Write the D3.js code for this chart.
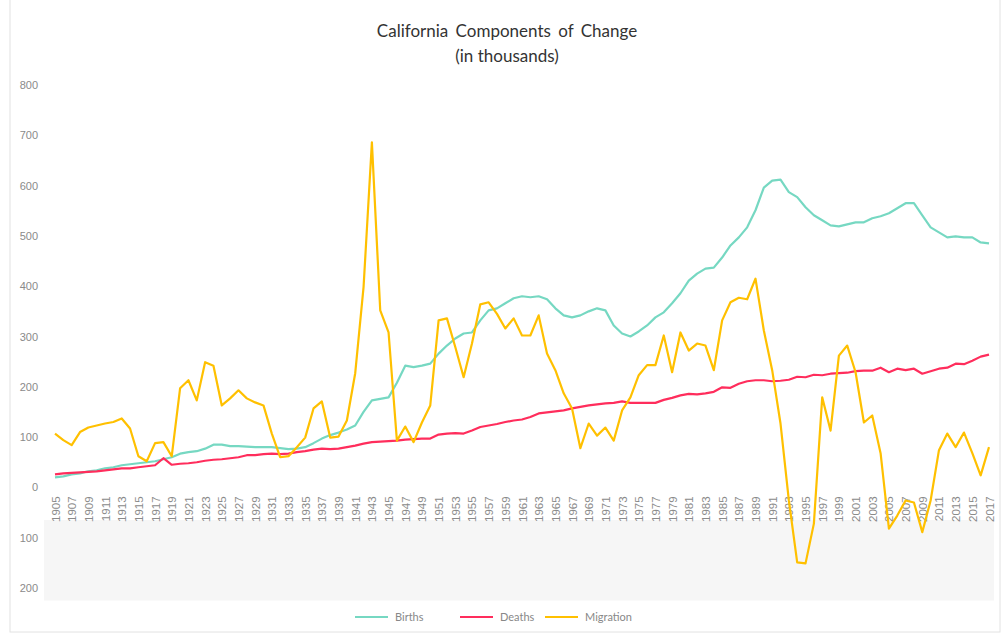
<!DOCTYPE html>
<html>
<head>
<meta charset="utf-8">
<script src="https://cdn.jsdelivr.net/npm/d3@7"></script>
<style>
  body { margin: 0; background: #fff; }
  svg { display: block; font-family: Lato, "Open Sans", sans-serif; }
  .tick text { fill: #8a8a8a; font-size: 11px; }
</style>
</head>
<body>
<div id="chart"></div>
<script>
// data (thousands), one value per year 1905..2017
let years = d3.range(1905, 2018);

let births = [
  20, 22, 26, 28, 32, 34, 38, 40, 44, 46,          // 1905-1914
  48, 50, 52, 56, 60, 67, 70, 72, 77, 85,          // 1915-1924
  85, 82, 82, 81, 80, 80, 80, 78, 76, 77,          // 1925-1934
  80, 88, 97, 104, 109, 115, 123, 150, 173, 176,   // 1935-1944
  179, 208, 242, 239, 242, 246, 266, 282, 296, 306, // 1945-1954
  308, 332, 352, 356, 366, 376, 380, 378, 380, 374, // 1955-1964
  356, 342, 338, 342, 350, 356, 352, 322, 306, 300, // 1965-1974
  310, 322, 338, 348, 366, 386, 411, 425, 435, 437, // 1975-1984
  457, 481, 497, 517, 551, 596, 610, 612, 587, 577, // 1985-1994
  557, 541, 531, 521, 519, 523, 527, 527, 535, 539, // 1995-2004
  545, 555, 565, 565, 541, 517, 507, 497, 499, 497, // 2005-2014
  497, 487, 485                                      // 2015-2017
];

let deaths = [
  26, 28, 29, 30, 31, 32, 34, 36, 38, 38,          // 1905-1914
  40, 42, 44, 58, 45, 47, 48, 50, 53, 55,          // 1915-1924
  56, 58, 60, 64, 64, 66, 67, 66, 67, 70,          // 1925-1934
  72, 75, 77, 76, 77, 80, 83, 87, 90, 91,          // 1935-1944
  92, 93, 95, 96, 97, 97, 105, 107, 108, 107,      // 1945-1954
  113, 120, 123, 126, 130, 133, 135, 140, 147, 149, // 1955-1964
  151, 153, 157, 160, 163, 165, 167, 168, 171, 168, // 1965-1974
  168, 168, 168, 174, 178, 183, 186, 185, 187, 190, // 1975-1984
  199, 198, 206, 211, 213, 213, 211, 212, 214, 220, // 1985-1994
  219, 224, 223, 226, 227, 228, 231, 232, 232, 238, // 1995-2004
  229, 236, 233, 236, 226, 231, 236, 238, 246, 245, // 2005-2014
  252, 260, 264                                      // 2015-2017
];

let migration = [
  107, 94, 84, 110, 119, 123, 127, 130, 137, 117,   // 1905-1914
  62, 52, 88, 90, 62, 197, 213, 173, 249, 242,      // 1915-1924
  163, 177, 193, 177, 169, 163, 107, 60, 62, 80,    // 1925-1934
  99, 157, 171, 99, 101, 133, 227, 398, 686, 352,   // 1935-1944
  308, 93, 121, 90, 129, 163, 332, 336, 279, 219,   // 1945-1954
  286, 364, 368, 345, 316, 336, 302, 302, 342, 266, // 1955-1964
  233, 187, 157, 78, 127, 103, 119, 93, 153, 179,   // 1965-1974
  223, 243, 243, 302, 229, 308, 272, 286, 282, 233, // 1975-1984
  332, 368, 377, 374, 415, 312, 233, 127, -26, -149, // 1985-1994
  -151, -72, 179, 113, 262, 282, 229, 129, 143, 68, // 1995-2004
  -82, -56, -26, -30, -89, -26, 74, 107, 80, 109,   // 2005-2014
  68, 24, 80                                         // 2015-2017
];

let seriesNames = ["Births", "Deaths", "Migration"];
let seriesColors = ["#76d8c2", "#ff2d5c", "#ffc000"];
let yTicks = [-200, -100, 0, 100, 200, 300, 400, 500, 600, 700, 800];
let xTicks = years.filter(y => y % 2 === 1);

let svgWidth = 1005;
let svgHeight = 635;

let svg = d3.select("#chart")
  .append("svg")
  .attr("width", svgWidth)
  .attr("height", svgHeight);

// scales
let x = d3.scaleLinear().domain([1905, 2017]).range([55, 989]);
let y = d3.scaleLinear().domain([-200, 800]).range([588, 85]);

// frame and the light band under the year labels
svg.append("rect")
  .attr("x", 10).attr("y", -1)
  .attr("width", 990).attr("height", 633)
  .attr("fill", "none")
  .attr("stroke", "#e2e2e2");

svg.append("rect")
  .attr("x", 44)
  .attr("y", y(-65))
  .attr("width", 950)
  .attr("height", y(-225) - y(-65))
  .attr("fill", "#f6f6f6");

// title
svg.append("text")
  .attr("x", 507).attr("y", 37)
  .attr("text-anchor", "middle")
  .attr("font-size", "17px")
  .attr("word-spacing", "3px")
  .attr("fill", "#333")
  .text("California Components of Change");

svg.append("text")
  .attr("x", 507).attr("y", 62)
  .attr("text-anchor", "middle")
  .attr("font-size", "17px")
  .attr("fill", "#333")
  .text("(in thousands)");

// y axis
let yAxis = d3.axisLeft(y)
  .tickValues(yTicks)
  .tickSize(0)
  .tickPadding(4)
  .tickFormat(d => Math.abs(d));

svg.append("g")
  .attr("transform", "translate(42,0)")
  .call(yAxis)
  .call(g => g.select(".domain").remove());

// x axis (rotated year labels)
let xAxis = d3.axisBottom(x)
  .tickValues(xTicks)
  .tickSize(0)
  .tickFormat(d3.format("d"));

svg.append("g")
  .attr("transform", `translate(0, ${y(0)})`)
  .call(xAxis)
  .call(g => g.select(".domain").remove())
  .selectAll("text")
  .attr("transform", "rotate(-90)")
  .attr("text-anchor", "end")
  .attr("x", -9)
  .attr("y", 0)
  .attr("dy", "0.35em")
  .style("font-size", "11.5px");

// lines
let line = d3.line()
  .x((d, i) => x(years[i]))
  .y(d => y(d));

[births, deaths, migration].forEach((values, i) => {
  svg.append("path")
    .datum(values)
    .attr("fill", "none")
    .attr("stroke", seriesColors[i])
    .attr("stroke-width", 2.2)
    .attr("stroke-linejoin", "round")
    .attr("d", line);
});

// legend
let legendX = [355, 460, 545];
let legend = svg.append("g").attr("transform", "translate(0, 617)");
seriesNames.forEach((name, i) => {
  legend.append("line")
    .attr("x1", legendX[i]).attr("x2", legendX[i] + 33)
    .attr("y1", 0).attr("y2", 0)
    .attr("stroke", seriesColors[i])
    .attr("stroke-width", 2);
  legend.append("text")
    .attr("x", legendX[i] + 40)
    .attr("y", 0)
    .attr("dy", "0.35em")
    .attr("font-size", "11px")
    .attr("fill", "#888")
    .text(name);
});
</script>
</body>
</html>
